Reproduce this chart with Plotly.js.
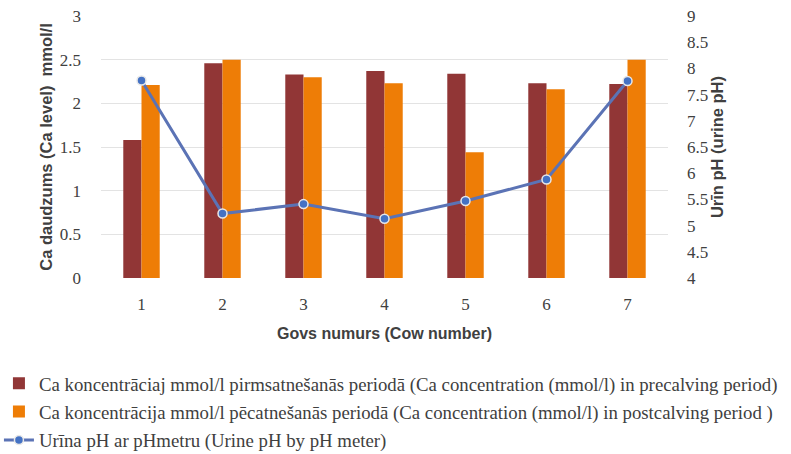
<!DOCTYPE html>
<html><head><meta charset="utf-8">
<script src="https://cdn.plot.ly/plotly-3.0.1.min.js"></script>
<style>html,body{margin:0;padding:0;background:#fff}</style>
</head><body><div id="chart" style="width:791px;height:454px"></div>
<script>
const cows = ['1','2','3','4','5','6','7'];
const caPre = [1.58, 2.46, 2.33, 2.37, 2.34, 2.23, 2.22];
const caPost = [2.21, 2.50, 2.30, 2.23, 1.44, 2.16, 2.50];
const urinePH = [7.77, 5.23, 5.41, 5.13, 5.47, 5.88, 7.76];
const namePre = 'Ca koncentrāciaj mmol/l pirmsatnešanās periodā (Ca concentration (mmol/l) in precalving period)';
const namePost = 'Ca koncentrācija mmol/l pēcatnešanās periodā (Ca concentration (mmol/l) in postcalving period )';
const namePH = 'Urīna pH ar pHmetru (Urine pH by pH meter)';

const serif = 'Liberation Serif, DejaVu Serif, serif';
const sansBold = 'Liberation Sans, Arial, sans-serif';
const txt = '#404040';

const traces = [
  {type:'bar', x:cows, y:caPre, name:namePre, legendgroup:'a', marker:{color:'#913636'}},
  {type:'bar', x:cows, y:caPost, name:namePost, legendgroup:'b', marker:{color:'#EE7D06'}},
  {type:'scatter', mode:'lines+markers', x:cows, y:urinePH, yaxis:'y2', name:namePH, legendgroup:'c',
   line:{color:'#5B73B5', width:3}, marker:{color:'#4472C4', size:9, line:{color:'#e8e8e8', width:1.5}}}
];
const layout = {
  width:791, height:454,
  margin:{l:101, r:123, t:16, b:176, autoexpand:false},
  paper_bgcolor:'#fff', plot_bgcolor:'#fff',
  barmode:'group', bargap:0.55, bargroupgap:0,
  font:{family:serif, size:17, color:txt},
  xaxis:{type:'category', showgrid:false, zeroline:false, showline:false, ticks:'',
    tickfont:{family:serif, size:17, color:txt}, ticklabelstandoff:14,
    title:{text:'<b>Govs numurs (Cow number)</b>', font:{family:sansBold, size:16, color:txt}, standoff:14}},
  yaxis:{range:[0,3], dtick:0.5, showgrid:true, gridcolor:'#e3e3e3', zeroline:false, showline:false,
    tickfont:{family:serif, size:17, color:txt}, ticklabelstandoff:19,
    title:{text:'<b>Ca daudzums (Ca level)  mmol/l</b>', font:{family:sansBold, size:16.5, color:txt}, standoff:2}},
  yaxis2:{range:[4,9], dtick:0.5, overlaying:'y', side:'right', showgrid:false, zeroline:false, showline:false,
    tickfont:{family:serif, size:17, color:txt}, ticklabelstandoff:18,
    title:{text:'<b>Urīn pH (urine pH)</b>', font:{family:sansBold, size:16.5, color:txt}, standoff:4}},
  legend:{orientation:'v', x:-0.180, xanchor:'left', y:-0.33, yanchor:'top',
    font:{family:serif, size:18.8, color:txt}, tracegroupgap:1, traceorder:'grouped', itemwidth:30},
  showlegend:true
};
Plotly.newPlot('chart', traces, layout, {displayModeBar:false, staticPlot:true});
</script></body></html>
